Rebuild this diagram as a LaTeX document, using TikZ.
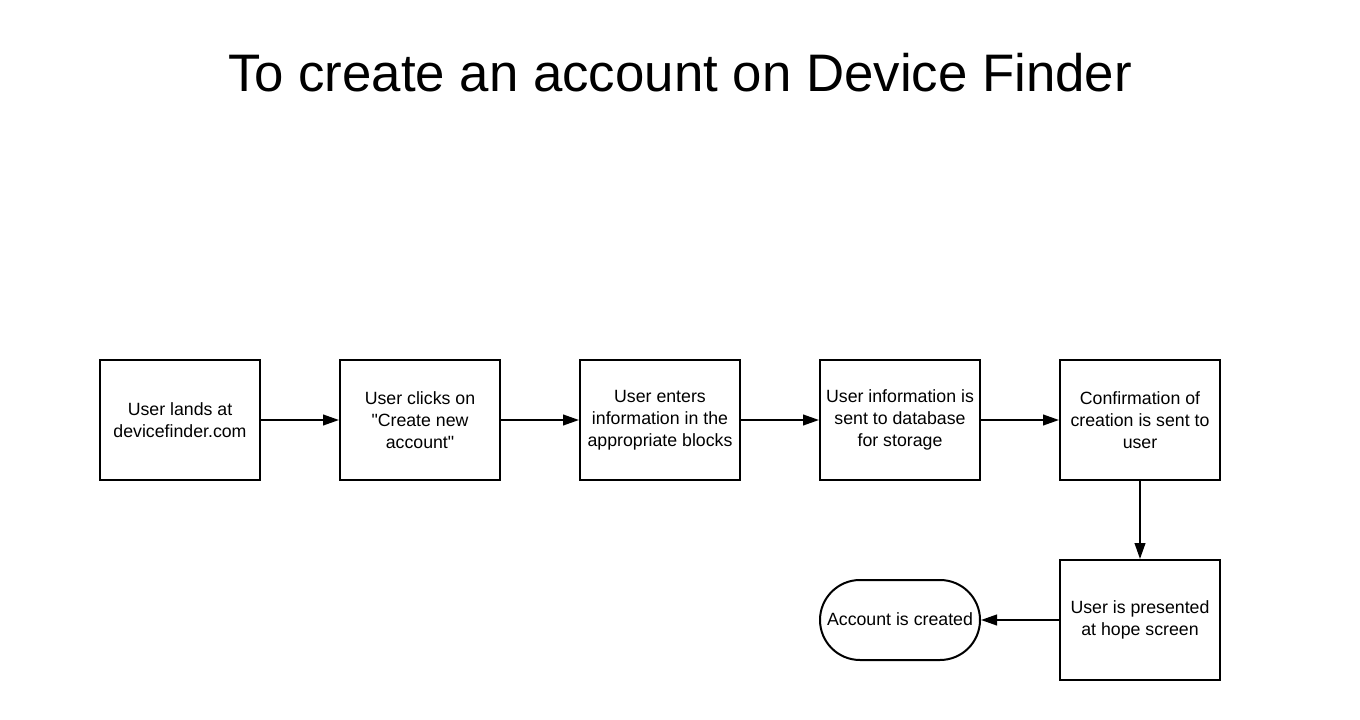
\documentclass[tikz,border=0pt]{standalone}
\usepackage{fontspec}
\setmainfont{Liberation Sans}[Ligatures=TeXOff]
\usetikzlibrary{arrows.meta}
\begin{document}
\begin{tikzpicture}[x=0.75pt,y=-0.75pt,
  stepbox/.style={draw=black,line width=1.5pt,minimum width=120pt,minimum height=90pt,align=center,inner sep=2pt,font=\fontsize{13.3}{16.5}\selectfont},
  endbox/.style={draw=black,line width=1.5pt,rounded corners=30pt,minimum width=120pt,minimum height=60pt,align=center,inner sep=2pt,font=\fontsize{13.3}{16.5}\selectfont},
  flow/.style={line width=1.5pt,-{Triangle[length=12pt,width=8pt]}}]
\useasboundingbox (0,0) rectangle (1360,720);
\node[font=\fontsize{39.6}{48}\selectfont] (title) at (680,73) {To create an account on Device Finder};
\node[stepbox] (b1) at (180,420) {User lands at\\devicefinder.com};
\node[stepbox] (b2) at (420,420) {User clicks on\\"Create new\\account"};
\node[stepbox] (b3) at (660,420) {User enters\\information in the\\appropriate blocks};
\node[stepbox] (b4) at (900,420) {User information is\\sent to database\\for storage};
\node[stepbox] (b5) at (1140,420) {Confirmation of\\creation is sent to\\user};
\node[stepbox] (b6) at (1140,620) {User is presented\\at hope screen};
\node[endbox] (e) at (900,620) {\raisebox{2pt}{Account is created}};
\draw[flow] (b1) -- (b2);
\draw[flow] (b2) -- (b3);
\draw[flow] (b3) -- (b4);
\draw[flow] (b4) -- (b5);
\draw[flow] (b5) -- (b6);
\draw[flow] (b6) -- (e);
\end{tikzpicture}
\end{document}
